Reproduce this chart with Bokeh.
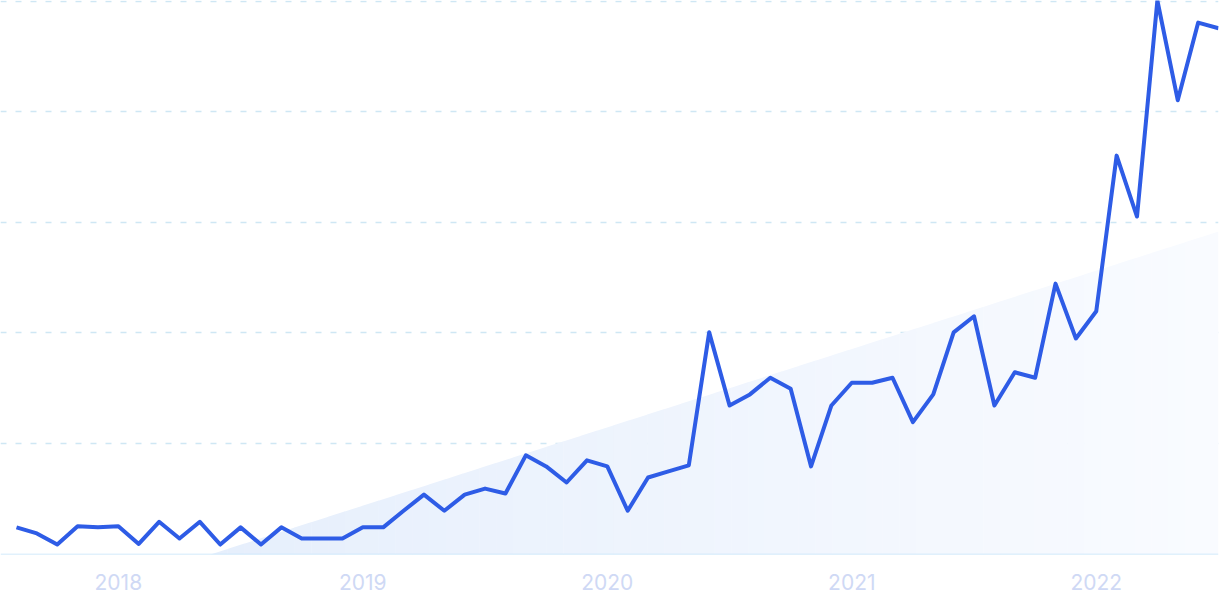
from bokeh.plotting import figure
from bokeh.models import Range1d, FixedTicker, Span, ColumnDataSource
from bokeh.embed import file_html
from bokeh.resources import INLINE

# ---- data ----
months = [f"{2017 + (7 + i) // 12}-{(7 + i) % 12 + 1:02d}" for i in range(60)]
values = [4.9, 3.8, 1.8, 5.1, 4.9, 5.1, 1.9, 5.9, 2.9, 5.9,
          1.8, 4.9, 1.8, 4.9, 2.9, 2.9, 2.9, 4.9, 4.9, 7.9,
          10.8, 7.9, 10.8, 11.9, 11.0, 17.9, 15.9, 13.0, 17.0, 15.9,
          7.9, 13.9, 15.0, 16.1, 40.1, 26.9, 28.9, 31.9, 29.9, 15.9,
          26.9, 31.0, 31.0, 31.9, 23.9, 28.9, 40.1, 43.0, 26.9, 32.9,
          31.9, 48.9, 39.0, 43.9, 72.0, 61.0, 100.0, 82.0, 96.0, 95.0]
year_ticks = [5, 17, 29, 41, 53]
year_labels = ["2018", "2019", "2020", "2021", "2022"]
trend_zero_index = 9.52     # month index where trend crosses zero
trend_end_value = 58.3      # trend value at last month

x = list(range(len(values)))
last = len(values) - 1

p = figure(width=1230, height=610, output_backend="svg", toolbar_location=None,
           x_range=Range1d(-16 / 20.373, last), y_range=Range1d(0, 100),
           min_border_left=8, min_border_right=4, min_border_top=8, min_border_bottom=48)
p.styles = {"margin-top": "-8px", "margin-left": "-8px"}
p.outline_line_color = None
p.background_fill_color = "white"
p.border_fill_color = "white"

# trend area with simulated horizontal gradient
n_strips = 60
c0 = (0xe6, 0xef, 0xfc)
c1 = (0xf9, 0xfb, 0xff)
slope = trend_end_value / (last - trend_zero_index)
xs, ys, cols = [], [], []
for k in range(n_strips):
    a = trend_zero_index + (last - trend_zero_index) * k / n_strips
    b = trend_zero_index + (last - trend_zero_index) * (k + 1) / n_strips + 0.02
    b = min(b, last)
    xs.append([a, b, b, a])
    ys.append([0, 0, slope * (b - trend_zero_index), slope * (a - trend_zero_index)])
    t = k / (n_strips - 1)
    cols.append("#%02x%02x%02x" % tuple(int(round(c0[i] + (c1[i] - c0[i]) * t)) for i in range(3)))
p.patches(xs=xs, ys=ys, fill_color=cols, line_color=None)

# grid
p.xgrid.visible = False
p.ygrid.ticker = FixedTicker(ticks=[20, 40, 60, 80, 99.9])
p.ygrid.grid_line_color = "#cfe7f4"
p.ygrid.grid_line_dash = "6 9"
p.ygrid.grid_line_width = 1.5
p.add_layout(Span(location=0, dimension="width", line_color="#c4e4fa", line_width=1.5))

src = ColumnDataSource(dict(x=x, y=values, month=months))
p.line("x", "y", source=src, line_color="#2e5ce6", line_width=4, line_join="round")

p.yaxis.visible = False
ax = p.xaxis[0]
ax.ticker = FixedTicker(ticks=year_ticks)
ax.major_label_overrides = {t: l for t, l in zip(year_ticks, year_labels)}
ax.axis_line_color = None
ax.major_tick_line_color = None
ax.minor_tick_line_color = None
ax.major_label_text_color = "#cfd9f5"
ax.major_label_text_font = "Inter"
ax.major_label_text_font_size = "21px"
ax.major_label_standoff = 13

open("out.html", "w").write(file_html(p, INLINE))
